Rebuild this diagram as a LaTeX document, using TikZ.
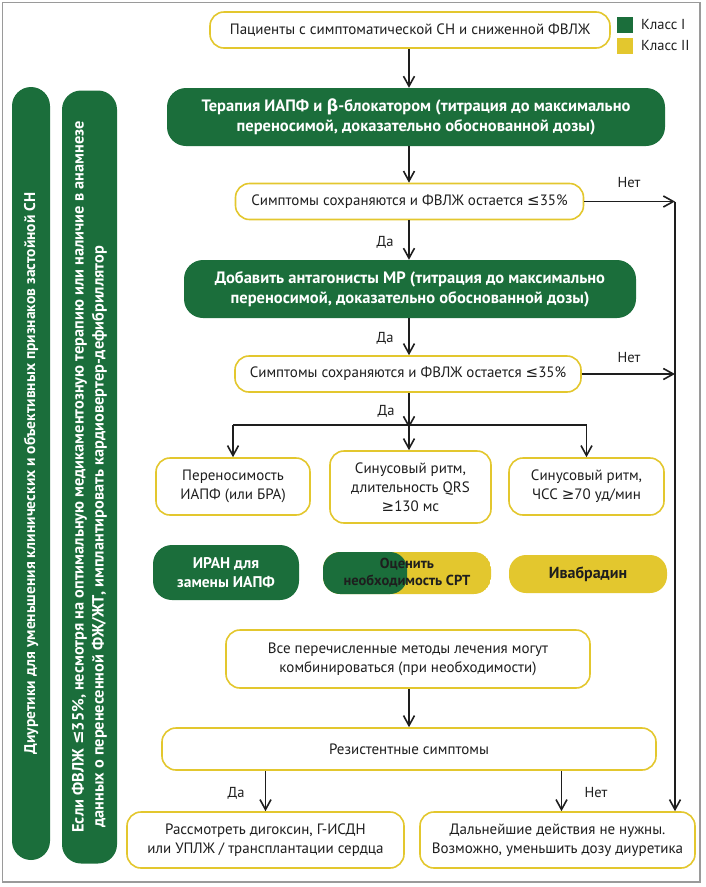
\documentclass[tikz,border=0pt]{standalone}
\usepackage{fontspec}
\setmainfont{PT Sans}
\newfontfamily\symf{DejaVu Sans}
\usetikzlibrary{arrows.meta,calc}
\definecolor{grn}{HTML}{1B6E3B}
\definecolor{ylw}{HTML}{E3C72E}
\definecolor{frm}{HTML}{9A9A9A}
\definecolor{txt}{HTML}{1E1E1E}
\newcommand\lesym{{\symf\char"2264}}
\newcommand\gesym{{\symf\char"2265}}
\newcommand\betasym{{\symf\char"03B2}}
\begin{document}
\begin{tikzpicture}[x=1pt,y=-1pt,
  wbox/.style={draw=ylw, line width=1.6pt, fill=white, rounded corners=14pt, align=center, inner sep=0pt, text=txt, font=\fontsize{15}{19}\selectfont},
  gbox/.style={fill=grn, text=white, rounded corners=19pt, align=center, inner sep=0pt, font=\fontsize{16.5}{20}\selectfont\bfseries},
  ybox/.style={fill=ylw, text=txt, rounded corners=17pt, align=center, inner sep=0pt, font=\fontsize{16}{20}\selectfont\bfseries},
  gbar/.style={fill=grn, text=white, rounded corners=19pt, align=center, inner sep=0pt, rotate=90, font=\fontsize{15.5}{20}\selectfont\bfseries},
  lbl/.style={text=txt, inner sep=0pt, font=\fontsize{14.5}{17}\selectfont},
  arr/.style={draw=txt, line width=1.6pt, -{Straight Barb[length=10pt,width=11pt,line width=1.6pt]}},
  ln/.style={draw=txt, line width=1.6pt}
]
\useasboundingbox (0,0) rectangle (705,887);
\draw[frm, line width=1.5pt] (2.5,2.5) rectangle (700,882);

% legend
\node[fill=grn, minimum size=16, inner sep=0pt] (lg1) at (625,25) {};
\node[fill=ylw, minimum size=16, inner sep=0pt] (lg2) at (625,46) {};
\node[lbl, anchor=west] (lt1) at (641,25) {Класс I};
\node[lbl, anchor=west] (lt2) at (641,46) {Класс II};

% left bars
\node[gbar, minimum width=773, minimum height=38] (bar1) at (31,473.5)
  {Диуретики для уменьшения клинических и объективных признаков застойной СН};
\node[gbar, minimum width=773, minimum height=55, align=left, font=\fontsize{16.3}{20}\selectfont\bfseries] (bar2) at (89.5,477)
  {Если ФВЛЖ \lesym35\%, несмотря на оптимальную медикаментозную терапию или наличие в анамнезе\\
   \hspace*{5pt}данных о перенесенной ФЖ/ЖТ, имплантировать кардиовертер-дефибриллятор};

% main column
\node[wbox, minimum width=400, minimum height=36] (top) at (410,30)
  {Пациенты с симптоматической СН и сниженной ФВЛЖ};
\node[gbox, minimum width=498, minimum height=58] (g1) at (416,117)
  {Терапия ИАПФ и \betasym-блокатором (титрация до максимально\\переносимой, доказательно обоснованной дозы)};
\node[wbox, minimum width=348, minimum height=36] (s1) at (409.5,201.5)
  {Симптомы сохраняются и ФВЛЖ остается \lesym35\%};
\node[gbox, minimum width=452, minimum height=58] (g2) at (410,289)
  {Добавить антагонисты МР (титрация до максимально\\переносимой, доказательно обоснованной дозы)};
\node[wbox, minimum width=346, minimum height=36] (s2) at (408,374)
  {Симптомы сохраняются и ФВЛЖ остается \lesym35\%};

\node[wbox, minimum width=154, minimum height=57] (a) at (233,486.5)
  {Переносимость\\ИАПФ (или БРА)};
\node[wbox, minimum width=161, minimum height=72] (b) at (410.5,487)
  {Синусовый ритм,\\длительность QRS\\\gesym130 мс};
\node[wbox, minimum width=155, minimum height=57] (c) at (586.5,486.5)
  {Синусовый ритм,\\ЧСС \gesym70 уд/мин};

\node[gbox, minimum width=146, minimum height=55, font=\fontsize{15.5}{19}\selectfont\bfseries] (iran) at (226,572.5)
  {ИРАН для\\замены ИАПФ};
\node[rounded corners=17pt, minimum width=168, minimum height=42, inner sep=0pt, align=center, text=txt,
  font=\fontsize{14.5}{17}\selectfont\bfseries,
  path picture={\fill[ylw] (path picture bounding box.south west) rectangle (path picture bounding box.north east);
                \fill[grn] (path picture bounding box.south west) rectangle (path picture bounding box.north);}]
  (crt) at (407,573) {Оценить\\необходимость СРТ};
\node[ybox, minimum width=158, minimum height=38] (iva) at (588,574) {Ивабрадин};

\node[wbox, minimum width=364, minimum height=58] (all) at (408,659)
  {Все перечисленные методы лечения могут\\комбинироваться (при необходимости)};
\node[wbox, minimum width=494, minimum height=42] (res) at (409,749)
  {Резистентные симптомы};
\node[wbox, minimum width=277, minimum height=56] (bl) at (265.5,840)
  {Рассмотреть дигоксин, Г-ИСДН\\или УПЛЖ / трансплантации сердца};
\node[wbox, minimum width=275, minimum height=56] (br) at (557.5,840)
  {Дальнейшие действия не нужны.\\Возможно, уменьшить дозу диуретика};

% connectors
\coordinate (vx) at (675,201.5);
\coordinate (brl) at (233,425);
\coordinate (brc) at (409,425);
\coordinate (brr) at (586.5,425);

\draw[arr] (top.south -| brc) -- (g1.north -| brc);
\draw[arr] (g1.south -| brc) -- (s1.north -| brc);
\draw[arr] (s1.south -| brc) -- (g2.north -| brc);
\draw[arr] (g2.south -| brc) -- (s2.north -| brc);
\draw[arr] (s2.south -| brc) -- ([yshift=-3]brc);
\draw[ln] (brl) -- (brr);
\draw[arr] (brl) -- (a.north);
\draw[arr] (brc) -- (b.north -| brc);
\draw[arr] (brr) -- (c.north);
\draw[arr] (all.south -| brc) -- (res.north -| brc);
\draw[arr] (res.south -| bl.north) -- (bl.north);
\draw[arr] ([xshift=4]res.south -| br.north) -- ([xshift=4]br.north);

\draw[arr] (s1.east) -- (vx);
\draw[arr] (s2.east) -- (s2.east -| vx);
\draw[arr] (vx) -- (br.north -| vx);

% labels
\node[lbl] (n1) at (629,183) {Нет};
\node[lbl] (d1) at (385,242) {Да};
\node[lbl] (d2) at (385,338) {Да};
\node[lbl] (n2) at (629,358) {Нет};
\node[lbl] (d3) at (386,411) {Да};
\node[lbl] (d4) at (236,793) {Да};
\node[lbl] (n4) at (596,793) {Нет};
\end{tikzpicture}
\end{document}
